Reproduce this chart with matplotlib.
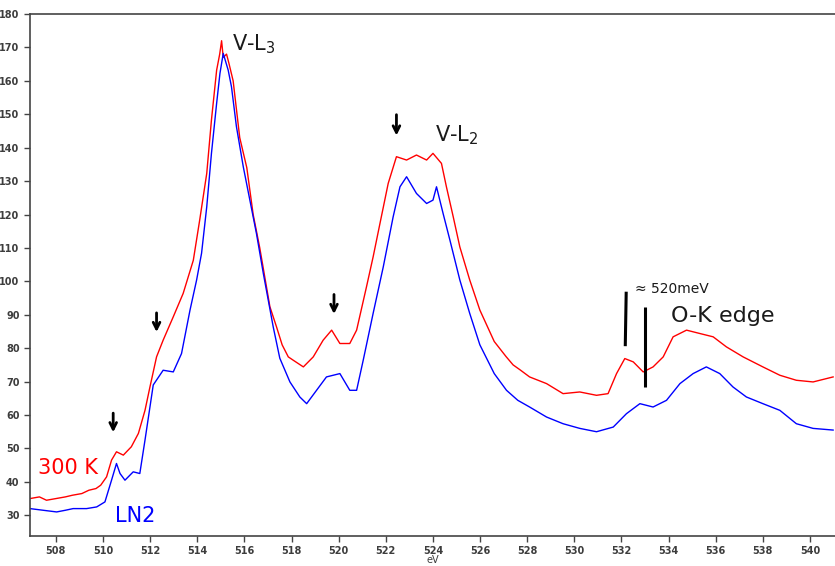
#!/usr/bin/env python3
"""V-L2,3 / O-K edge EELS spectra at 300 K and LN2 temperature."""

import matplotlib

matplotlib.use("Agg")

import matplotlib.pyplot as plt

# energy loss (eV) and counts
E_300K = [
    506.9, 507.3, 507.6, 508.0, 508.4, 508.7, 509.1, 509.4, 509.7, 509.9,
    510.15, 510.36, 510.57, 510.86, 511.2, 511.5, 511.78, 511.99, 512.27, 512.55,
    512.98, 513.4, 513.83, 514.1, 514.4, 514.6, 514.82, 514.95, 515.03, 515.1,
    515.24, 515.35, 515.52, 515.8, 516.1, 516.37, 516.65, 517.08, 517.36, 517.6,
    517.86, 518.07, 518.5, 518.92, 519.34, 519.7, 520.05, 520.47, 520.76, 521.18,
    521.46, 521.75, 522.1, 522.45, 522.88, 523.3, 523.73, 524.0, 524.36, 524.57,
    524.86, 525.14, 525.56, 525.99, 526.6, 527.1, 527.4, 527.7, 528.1, 528.82,
    529.52, 530.23, 530.94, 531.43, 531.79, 532.14, 532.5, 532.92, 533.34, 533.77,
    534.19, 534.76, 535.32, 535.89, 536.45, 537.16, 538.0, 538.72, 539.42, 540.13,
    540.98,
]
I_300K = [
    35, 35.5, 34.5, 35, 35.5, 36, 36.5, 37.5, 38, 39,
    41.5, 46.5, 49, 48, 50.5, 54.5, 61.4, 68.4, 77.4, 82.4,
    89.4, 96.4, 106.3, 118.3, 132.3, 148.3, 163.2, 168, 172, 167,
    168, 165, 160, 143, 134, 120, 110, 92.4, 86.4, 81,
    77.4, 76.4, 74.4, 77.4, 82.4, 85.4, 81.4, 81.4, 85.4, 98.4,
    107.3, 117.3, 129.3, 137.3, 136.3, 137.8, 136.3, 138.3, 135.3, 128.3,
    119.3, 110.3, 100.4, 91.4, 82, 77.5, 75, 73.5, 71.4, 69.4,
    66.4, 66.9, 65.9, 66.4, 72.4, 76.9, 75.9, 72.9, 74.4, 77.4,
    83.4, 85.4, 84.4, 83.4, 80.4, 77.4, 74.4, 71.9, 70.4, 69.9,
    71.4,
]

E_LN2 = [
    506.9, 507.46, 508.03, 508.4, 508.73, 509.3, 509.73, 510.08, 510.36, 510.57,
    510.72, 510.93, 511.28, 511.56, 511.78, 511.99, 512.13, 512.55, 512.98, 513.33,
    513.69, 513.97, 514.18, 514.4, 514.6, 514.82, 514.96, 515.1, 515.31, 515.45,
    515.66, 515.95, 516.23, 516.51, 516.8, 517.22, 517.5, 517.93, 518.35, 518.64,
    519.06, 519.48, 520.05, 520.47, 520.76, 521.04, 521.46, 521.89, 522.31, 522.6,
    522.88, 523.3, 523.73, 524.0, 524.15, 524.43, 524.72, 525.14, 525.56, 525.99,
    526.6, 527.12, 527.6, 528.1, 528.82, 529.52, 530.23, 530.94, 531.65, 532.21,
    532.78, 533.34, 533.91, 534.48, 535.04, 535.6, 536.17, 536.73, 537.3, 538.0,
    538.72, 539.42, 540.13, 540.98,
]
I_LN2 = [
    32, 31.5, 31, 31.5, 32, 32, 32.5, 34, 40.5, 45.5,
    42.5, 40.5, 43, 42.5, 52.5, 62.4, 69, 73.4, 72.9, 78.4,
    91.4, 100.4, 108.4, 122.3, 138.3, 153.3, 162.2, 168.2, 163.2, 158.2,
    146.3, 134.3, 124.3, 114.3, 102.4, 86.4, 77, 69.9, 65.4, 63.4,
    67.4, 71.4, 72.4, 67.4, 67.4, 76.4, 90.4, 104.3, 119.3, 128.3,
    131.3, 126.3, 123.3, 124.3, 128.3, 120.3, 112.3, 100.4, 90.4, 81,
    72.4, 67.4, 64.4, 62.4, 59.4, 57.4, 56, 55, 56.4, 60.4,
    63.4, 62.4, 64.4, 69.4, 72.4, 74.4, 72.4, 68.4, 65.4, 63.4,
    61.4, 57.4, 56, 55.5,
]

# down arrows marking fine structure: (energy, tail, head)
ARROWS = [(510.43, 61.4, 54.0), (512.27, 91.4, 84.0), (519.8, 96.9, 89.4), (522.45, 150.7, 142.8)]

# the two bars spanning the ~520 meV splitting
SPLIT_BARS = [((532.2, 532.16), (96.9, 80.6)), ((533.0, 533.0), (92.4, 68.4))]


def main() -> None:
    fig = plt.figure(figsize=(8.35, 5.66), dpi=100)
    ax = fig.add_axes([30 / 835, 1 - 536 / 566, 1 - 30 / 835, (536 - 14) / 566])

    ax.plot(E_300K, I_300K, color="#ff0000", lw=1.0)
    ax.plot(E_LN2, I_LN2, color="#0000ff", lw=1.0)

    ax.set_xlim(506.9, 541.06)
    ax.set_ylim(23.8, 180)
    ax.set_xticks(range(508, 541, 2))
    ax.set_yticks(range(30, 181, 10))

    for side in ("left", "bottom", "top"):
        ax.spines[side].set_color("#444444")
        ax.spines[side].set_linewidth(1.2)
    ax.spines["right"].set_visible(False)
    ax.tick_params(direction="out", length=4, width=1, color="#444444",
                   labelsize=7, labelcolor="#3d3d3d")
    for label in ax.get_xticklabels() + ax.get_yticklabels():
        label.set_fontweight("bold")

    ax.set_xlabel("eV", fontsize=7, color="#3d3d3d")
    ax.xaxis.set_label_coords(0.5, -0.036)

    for x, y0, y1 in ARROWS:
        ax.annotate("", xy=(x, y1), xytext=(x, y0),
                    arrowprops={"arrowstyle": "->", "color": "black", "lw": 2.0,
                                "mutation_scale": 12})

    for xs, ys in SPLIT_BARS:
        ax.plot(xs, ys, color="black", lw=2.2, solid_capstyle="butt")

    ax.text(515.47, 169.2, "V-L$_3$", fontsize=15, color="#1a1a1a")
    ax.text(524.08, 141.8, "V-L$_2$", fontsize=15, color="#1a1a1a")
    ax.text(534.08, 87.9, "O-K edge", fontsize=16, color="#1a1a1a")
    ax.text(532.56, 96.4, "≈ 520meV", fontsize=10, color="#1a1a1a")
    ax.text(507.25, 42.5, "300 K", fontsize=15, color="#ff0000")
    ax.text(510.5, 28.0, "LN2", fontsize=15, color="#0000ff")

    fig.savefig("out.png", dpi=100)


if __name__ == "__main__":
    main()
